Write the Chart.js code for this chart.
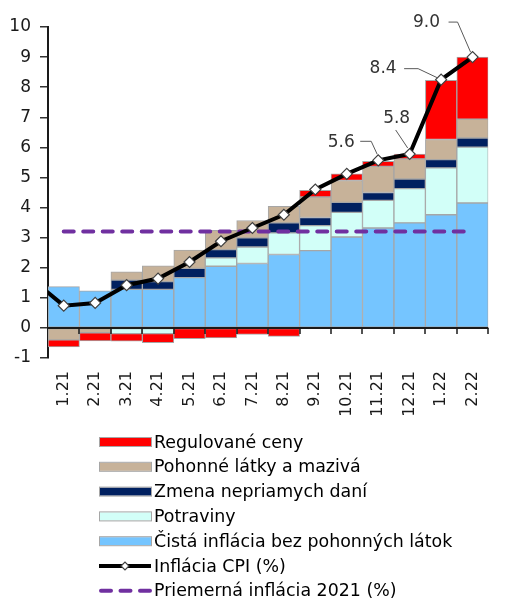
<!DOCTYPE html>
<html>
<head>
<meta charset="utf-8">
<script src="https://cdn.jsdelivr.net/npm/chart.js@4.4.1/dist/chart.umd.min.js"></script>
<style>
  html, body { margin: 0; padding: 0; background: #fff; }
</style>
</head>
<body>
<canvas id="chart" width="505" height="601"></canvas>
<script>
// Prispevky k inflacii (p.b.) a inflacia CPI (%)
// 12.20 je len kvoli zaciatku ciary CPI, na osi sa neukazuje
const months = ['12.20', '1.21', '2.21', '3.21', '4.21', '5.21', '6.21', '7.21', '8.21', '9.21', '10.21', '11.21', '12.21', '1.22', '2.22'];

const cistaInflacia = [null, 1.37, 1.23, 1.28, 1.28, 1.67, 2.05, 2.14, 2.44, 2.57, 3.02, 3.32, 3.49, 3.76, 4.15];
const potraviny     = [null, null, null, -0.19, -0.19, null, 0.28, 0.55, 0.72, 0.83, 0.82, 0.92, 1.14, 1.56, 1.86];
const dane          = [null, null, null, 0.31, 0.26, 0.31, 0.27, 0.30, 0.33, 0.27, 0.33, 0.26, 0.32, 0.27, 0.30];
const pohonneLatky  = [null, -0.40, -0.16, 0.27, 0.52, 0.61, 0.64, 0.58, 0.55, 0.68, 0.73, 0.87, 0.67, 0.67, 0.63];
const regulovane    = [null, -0.23, -0.27, -0.25, -0.30, -0.36, -0.33, -0.22, -0.28, 0.22, 0.22, 0.17, 0.16, 1.97, 2.06];

const inflaciaCPI   = [1.6, 0.74, 0.83, 1.42, 1.64, 2.19, 2.88, 3.32, 3.76, 4.6, 5.12, 5.57, 5.78, 8.25, 9.0];
const priemer2021   = [null, 3.2, 3.2, 3.2, 3.2, 3.2, 3.2, 3.2, 3.2, 3.2, 3.2, 3.2, 3.2, 3.2, 3.2];

// popisky k vybranym bodom CPI
const popiskyMesiace = ['11.21', '12.21', '1.22', '2.22'];
const popiskyText    = ['5.6', '5.8', '8.4', '9.0'];

const FONT = 'DejaVu Sans, Verdana, sans-serif';

// umiestnenie popiskov voci bodu: text, zaciatok, zlom, koniec ciarky
const popiskyStyl = [
  { tx: -37, ty: -18, pts: [[-18, -19], [-7, -19], [-1, -6]] },
  { tx: -13, ty: -35, pts: [[-14, -24], [-2, -6]] },
  { tx: -58, ty: -11, pts: [[-37, -11], [-23, -11], [-4, -2]] },
  { tx: -46, ty: -35, pts: [[-24, -35], [-15, -35], [-2, -5]] }
];

// nulova os s dielikmi medzi mesiacmi
const zeroAxis = {
  id: 'zeroAxis',
  afterDatasetsDraw(chart) {
    const { ctx, chartArea, scales } = chart;
    const y0 = scales.y.getPixelForValue(0);
    const x = scales.x;
    const half = (x.getPixelForValue(2) - x.getPixelForValue(1)) / 2;
    ctx.save();
    ctx.strokeStyle = '#1a1a1a';
    ctx.lineWidth = 2;
    ctx.beginPath();
    ctx.moveTo(chartArea.left, y0);
    ctx.lineTo(chartArea.right, y0);
    ctx.stroke();
    ctx.lineWidth = 1.5;
    for (let i = 1; i < months.length; i++) {
      const px = Math.round(x.getPixelForValue(i) + half);
      ctx.beginPath();
      ctx.moveTo(px, y0);
      ctx.lineTo(px, y0 + 6);
      ctx.stroke();
    }
    ctx.restore();
  }
};

// popisky hodnot s ciarkami
const callouts = {
  id: 'callouts',
  afterDraw(chart) {
    const { ctx } = chart;
    const meta = chart.getDatasetMeta(5);
    ctx.save();
    ctx.font = '17px ' + FONT;
    ctx.textAlign = 'center';
    ctx.textBaseline = 'middle';
    popiskyMesiace.forEach((m, k) => {
      const p = meta.data[months.indexOf(m)];
      const s = popiskyStyl[k];
      ctx.fillStyle = '#333';
      ctx.fillText(popiskyText[k], p.x + s.tx, p.y + s.ty);
      ctx.strokeStyle = '#595959';
      ctx.lineWidth = 1;
      ctx.beginPath();
      s.pts.forEach(([dx, dy], j) => {
        if (j === 0) ctx.moveTo(p.x + dx, p.y + dy);
        else ctx.lineTo(p.x + dx, p.y + dy);
      });
      ctx.stroke();
    });
    ctx.restore();
  }
};

// legenda pod grafom, po jednej polozke na riadok
const legendOrder = [4, 3, 2, 1, 0, 5, 6];
const bottomLegend = {
  id: 'bottomLegend',
  afterDraw(chart) {
    const { ctx } = chart;
    const left = 99, boxW = 52, top = 442, step = 24.8;
    ctx.save();
    ctx.font = '17.4px ' + FONT;
    ctx.textBaseline = 'middle';
    ctx.textAlign = 'left';
    legendOrder.forEach((di, r) => {
      const ds = chart.data.datasets[di];
      const y = top + r * step;
      if (ds.type === 'line') {
        ctx.strokeStyle = ds.borderColor;
        ctx.lineWidth = ds.borderWidth;
        ctx.setLineDash(ds.borderDash || []);
        ctx.lineCap = ds.borderCapStyle || 'butt';
        ctx.beginPath();
        ctx.moveTo(left + (ds.borderDash ? 2 : 0), y);
        ctx.lineTo(left + boxW, y);
        ctx.stroke();
        ctx.setLineDash([]);
        if (ds.pointRadius) {
          ctx.fillStyle = ds.pointBackgroundColor;
          ctx.strokeStyle = ds.pointBorderColor;
          ctx.lineWidth = 1.2;
          const cx = left + boxW / 2, rr = 4;
          ctx.beginPath();
          ctx.moveTo(cx - rr, y);
          ctx.lineTo(cx, y - rr);
          ctx.lineTo(cx + rr, y);
          ctx.lineTo(cx, y + rr);
          ctx.closePath();
          ctx.fill();
          ctx.stroke();
        }
      } else {
        ctx.fillStyle = ds.backgroundColor;
        ctx.fillRect(left, y - 4, boxW, 8);
        ctx.strokeStyle = '#a6a6a6';
        ctx.lineWidth = 1;
        ctx.strokeRect(left + 0.5, y - 4.5, boxW, 9);
      }
      ctx.fillStyle = '#000';
      ctx.fillText(ds.label, left + boxW + 3, y + 1);
    });
    ctx.restore();
  }
};

function barSet(label, data, color) {
  return {
    type: 'bar',
    label: label,
    data: data,
    backgroundColor: color,
    borderColor: '#a6a6a6',
    borderWidth: 1,
    borderSkipped: false,
    barPercentage: 1,
    categoryPercentage: 1,
    stack: 'p',
    order: 2
  };
}

const chart = new Chart(document.getElementById('chart'), {
  data: {
    labels: months,
    datasets: [
      barSet('Čistá inflácia bez pohonných látok', cistaInflacia, '#75c5ff'),
      barSet('Potraviny', potraviny, '#d2fff8'),
      barSet('Zmena nepriamych daní', dane, '#002060'),
      barSet('Pohonné látky a mazivá', pohonneLatky, '#c7b299'),
      barSet('Regulované ceny', regulovane, '#ff0000'),
      {
        type: 'line',
        label: 'Inflácia CPI (%)',
        data: inflaciaCPI,
        stack: 'cpi',
        borderColor: '#000',
        borderWidth: 4,
        tension: 0,
        pointStyle: 'rectRot',
        pointRadius: 5.5,
        pointBackgroundColor: '#fff',
        pointBorderColor: '#404040',
        pointBorderWidth: 1.2,
        clip: 0,
        order: 0
      },
      {
        type: 'line',
        label: 'Priemerná inflácia 2021 (%)',
        data: priemer2021,
        stack: 'priemer',
        borderColor: '#7030a0',
        borderWidth: 4,
        borderDash: [10, 9.5],
        borderCapStyle: 'round',
        pointRadius: 0,
        clip: 0,
        order: 1
      }
    ]
  },
  options: {
    responsive: false,
    animation: false,
    layout: { padding: { top: 27, right: 3, left: 0, bottom: 0 } },
    plugins: {
      legend: { display: false },
      tooltip: { enabled: false }
    },
    scales: {
      x: {
        type: 'category',
        min: '1.21',
        stacked: true,
        grid: { display: false, drawTicks: false },
        border: { display: false },
        ticks: {
          autoSkip: false,
          minRotation: 90,
          maxRotation: 90,
          padding: 13,
          color: '#1a1a1a',
          font: { family: FONT, size: 16 }
        },
        afterFit: (s) => { s.height = 243; }
      },
      y: {
        stacked: true,
        min: -1,
        max: 10,
        ticks: {
          stepSize: 1,
          padding: 9,
          color: '#1a1a1a',
          font: { family: FONT, size: 17 }
        },
        grid: { drawOnChartArea: false, drawTicks: true, tickLength: 8, color: '#333', lineWidth: 1.5 },
        border: { display: true, color: '#1a1a1a', width: 2 },
        afterFit: (s) => { s.width = 48; }
      }
    }
  },
  plugins: [zeroAxis, callouts, bottomLegend]
});
</script>
</body>
</html>
